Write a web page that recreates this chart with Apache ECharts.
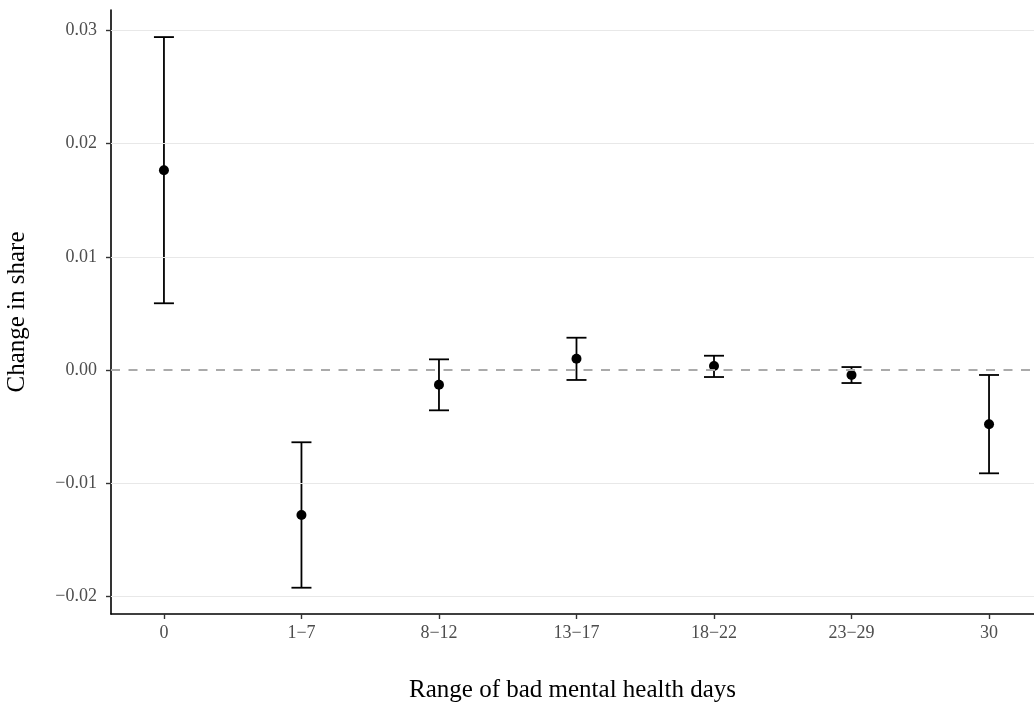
<!DOCTYPE html>
<html>
<head>
<meta charset="utf-8">
<script src="https://cdn.jsdelivr.net/npm/echarts@6/dist/echarts.min.js"></script>
<style>
html,body{margin:0;padding:0;background:#fff;}
#chart{width:1034px;height:704px;}
</style>
</head>
<body>
<div id="chart"></div>
<script>
var categories = ['0', '1\u22127', '8\u221212', '13\u221217', '18\u221222', '23\u221229', '30'];
var estimates = [0.01764, -0.01279, -0.00129, 0.00101, 0.00036, -0.00043, -0.00478];
var lower = [0.0059, -0.01921, -0.00355, -0.00087, -0.00061, -0.00114, -0.00911];
var upper = [0.0294, -0.00637, 0.00095, 0.00286, 0.00127, 0.00027, -0.00043];
var yTicks = [-0.02, -0.01, 0, 0.01, 0.02, 0.03];
var yMinorTicks = [-0.015, -0.005, 0.005, 0.015, 0.025];

var xIdx = categories.map(function (c, i) { return i; });
var pointData = categories.map(function (c, i) { return [i, estimates[i]]; });
var barData = categories.map(function (c, i) { return [i, lower[i], upper[i]]; });

var FONT = '"Liberation Serif", "DejaVu Serif", serif';

function fmtY(v) {
  var s = Math.abs(v).toFixed(2);
  return (v < -1e-9 ? '\u2212' : '') + s;
}

var chart = echarts.init(document.getElementById('chart'), null, {renderer: 'canvas'});
chart.setOption({
  animation: false,
  backgroundColor: '#ffffff',
  grid: {left: 111, right: 0, top: 10, bottom: 90, containLabel: false, outerBoundsMode: 'none'},
  xAxis: {
    type: 'value',
    min: -0.385,
    max: 6.327,
    name: 'Range of bad mental health days',
    nameLocation: 'middle',
    nameGap: 64,
    nameTextStyle: {fontFamily: FONT, fontSize: 25, color: '#000'},
    axisLine: {show: true, onZero: false, lineStyle: {color: '#000', width: 1.6}},
    axisTick: {show: true, length: 5, lineStyle: {color: '#333', width: 1.4}, customValues: xIdx},
    axisLabel: {
      show: true, margin: 10, fontFamily: FONT, fontSize: 18, color: '#4d4d4d',
      customValues: xIdx,
      formatter: function (v) { return categories[Math.round(v)]; }
    },
    splitLine: {show: false}
  },
  yAxis: {
    type: 'value',
    min: -0.02153,
    max: 0.03179,
    name: 'Change in share',
    nameLocation: 'middle',
    nameGap: 81,
    nameTextStyle: {fontFamily: FONT, fontSize: 25, color: '#000'},
    axisLine: {show: true, onZero: false, lineStyle: {color: '#000', width: 1.6}},
    axisTick: {show: true, length: 5, lineStyle: {color: '#333', width: 1.4}, customValues: yTicks},
    axisLabel: {
      show: true, margin: 14, fontFamily: FONT, fontSize: 18, color: '#4d4d4d',
      customValues: yTicks,
      formatter: fmtY
    },
    splitLine: {show: false}
  },
  series: [
    {
      type: 'line',
      data: [],
      z: 0,
      silent: true,
      markLine: {
        silent: true,
        symbol: 'none',
        label: {show: false},
        animation: false,
        data: yMinorTicks.map(function (v) {
          return {yAxis: v, lineStyle: {color: '#f3f3f3', width: 1, type: 'solid'}};
        }).concat(yTicks.filter(function (v) { return v !== 0; }).map(function (v) {
          return {yAxis: v, lineStyle: {color: '#e8e8e8', width: 1.1, type: 'solid'}};
        }))
      }
    },
    {
      type: 'line',
      data: [],
      z: 1,
      silent: true,
      markLine: {
        silent: true,
        symbol: 'none',
        label: {show: false},
        animation: false,
        data: [{yAxis: 0, lineStyle: {color: '#aaaaaa', width: 2, type: [9, 8.5]}}]
      }
    },
    {
      type: 'custom',
      z: 3,
      data: barData,
      renderItem: function (params, api) {
        var x = api.value(0);
        var lo = api.coord([x, api.value(1)]);
        var hi = api.coord([x, api.value(2)]);
        var hw = 10;
        var st = {stroke: '#000', lineWidth: 1.8};
        return {
          type: 'group',
          children: [
            {type: 'line', shape: {x1: lo[0], y1: lo[1], x2: hi[0], y2: hi[1]}, style: st},
            {type: 'line', shape: {x1: hi[0] - hw, y1: hi[1], x2: hi[0] + hw, y2: hi[1]}, style: st},
            {type: 'line', shape: {x1: lo[0] - hw, y1: lo[1], x2: lo[0] + hw, y2: lo[1]}, style: st}
          ]
        };
      }
    },
    {
      type: 'scatter',
      z: 4,
      data: pointData,
      symbol: 'circle',
      symbolSize: 10,
      itemStyle: {color: '#000', opacity: 1}
    }
  ]
});
</script>
</body>
</html>
